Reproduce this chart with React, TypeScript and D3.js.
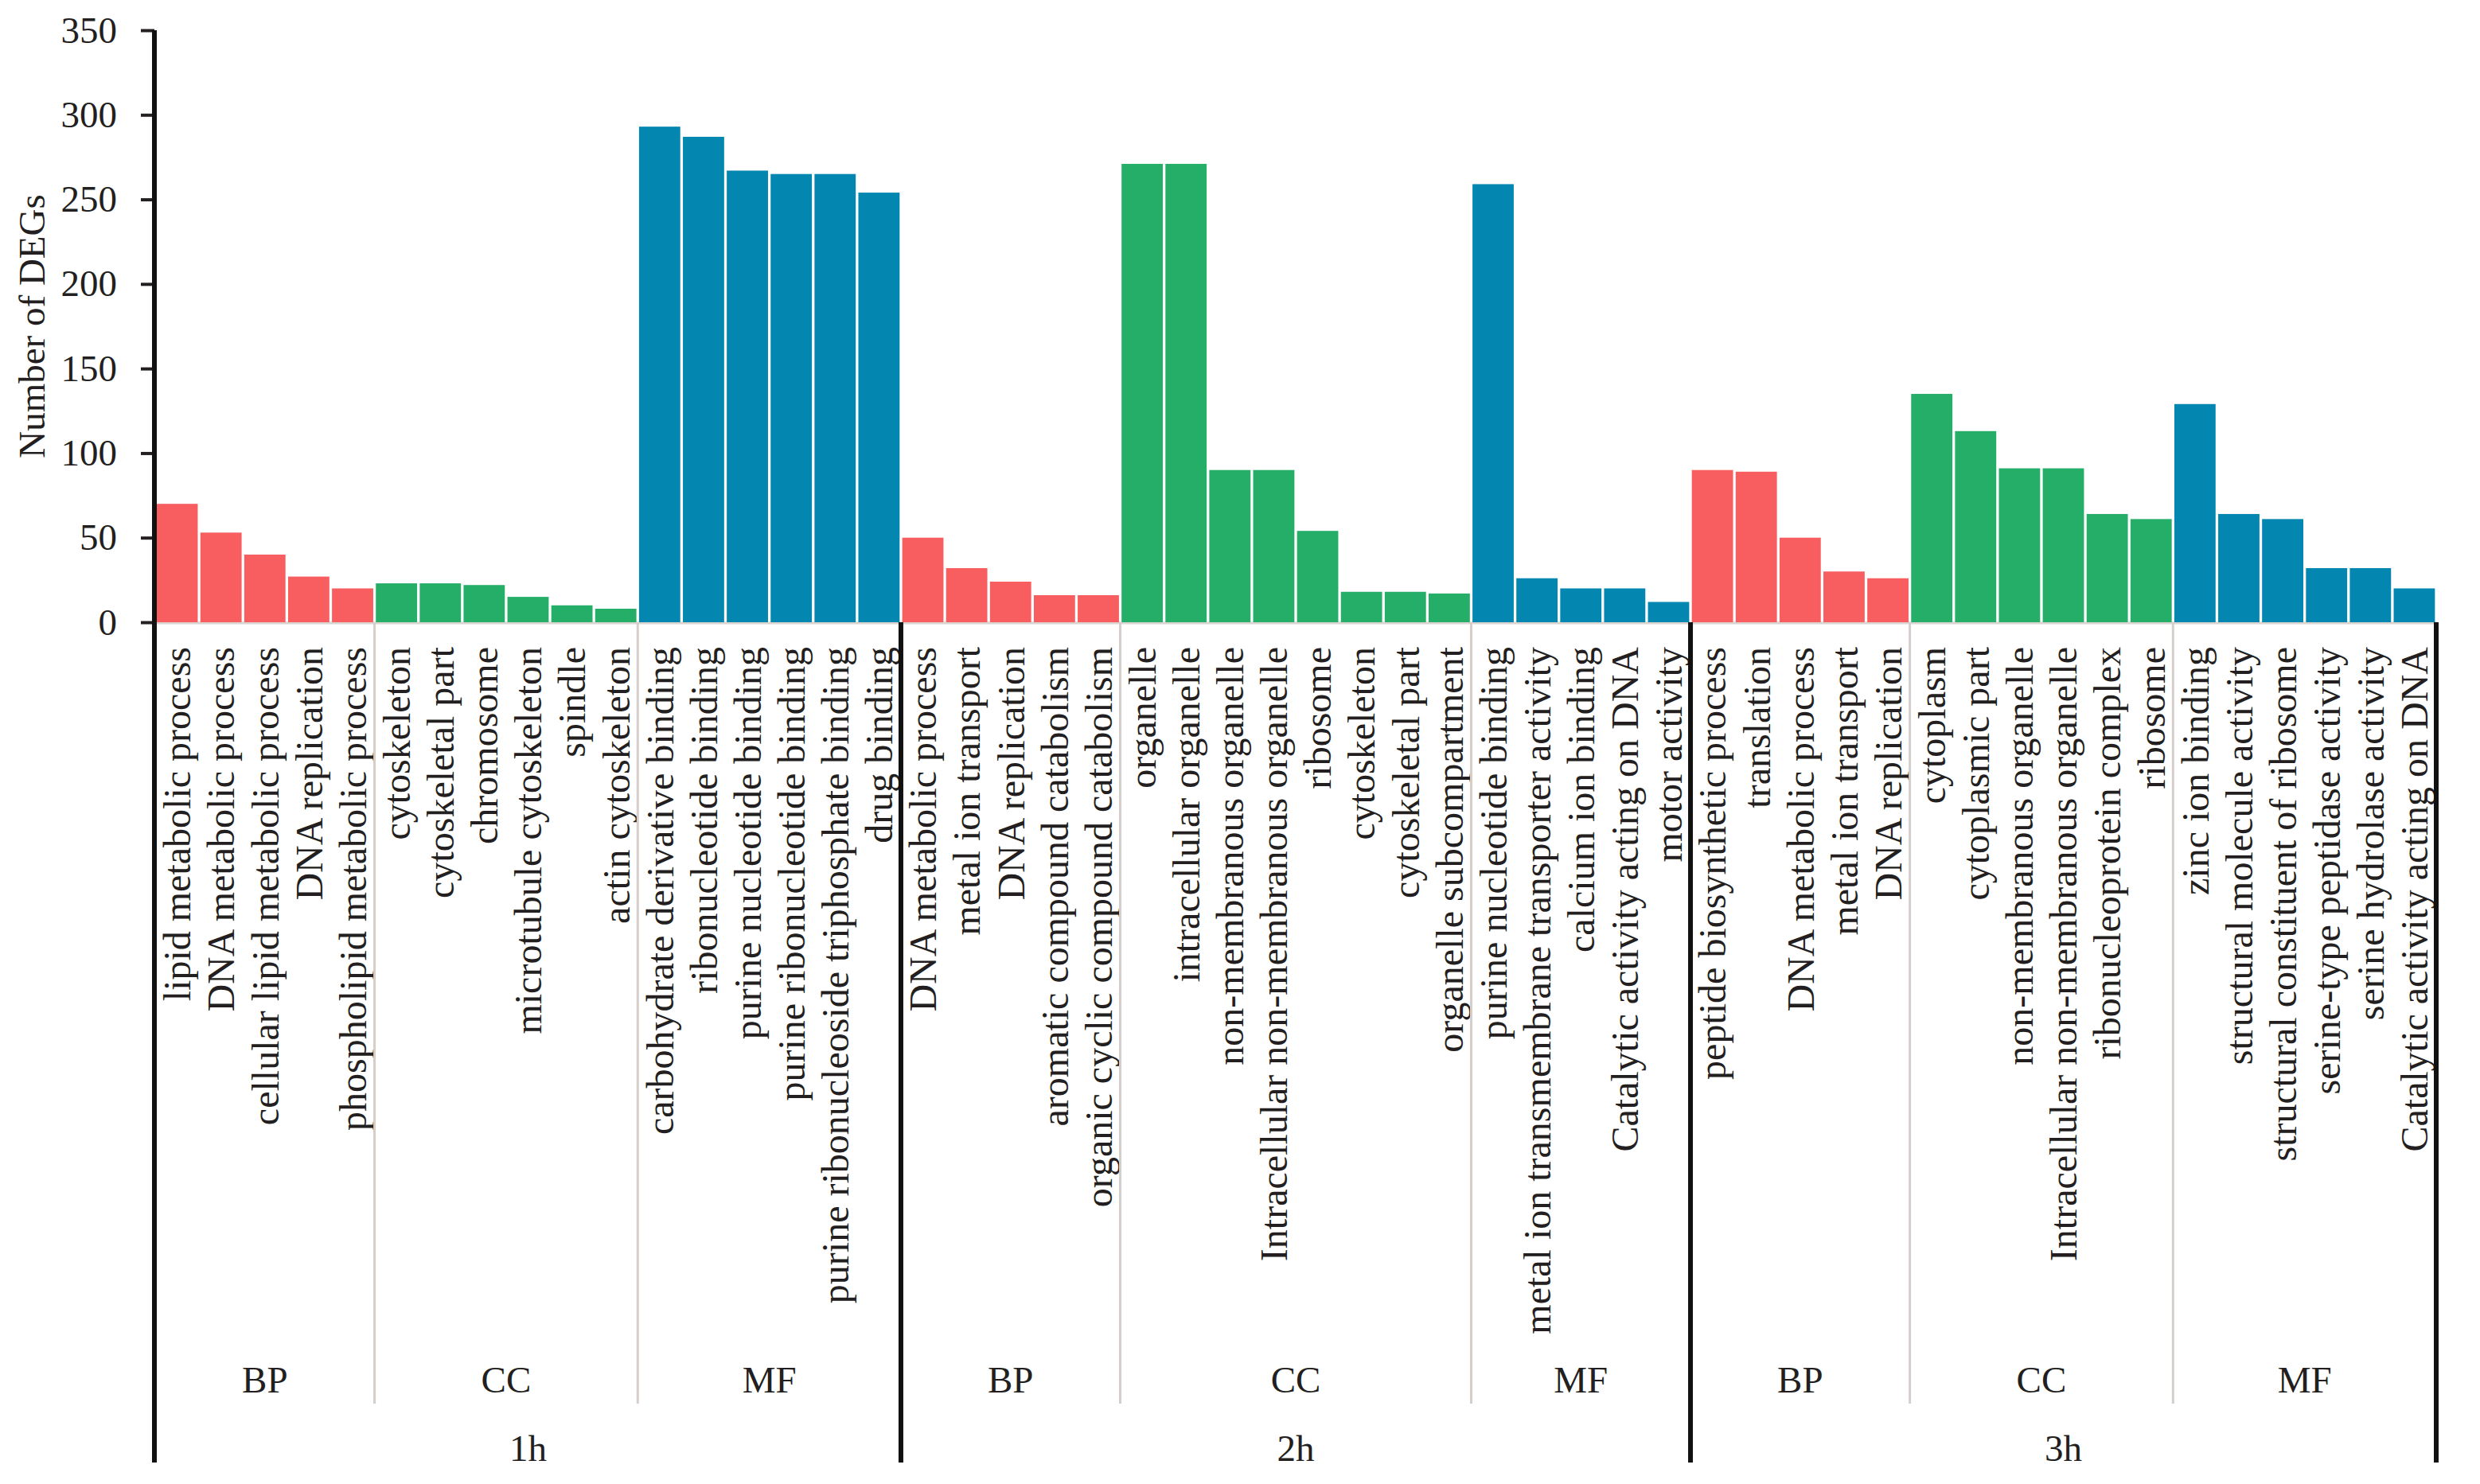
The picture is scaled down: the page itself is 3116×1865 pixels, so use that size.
import React, {useRef, useEffect} from "react";
import * as d3 from "d3";

// time points and GO ontologies
const groups = ["1h", "2h", "3h"];
const ontologies = ["BP", "CC", "MF"];

const bp1hTerms = ["lipid metabolic process", "DNA metabolic process", "cellular lipid metabolic process", "DNA replication", "phospholipid metabolic process"];
const bp1hCounts = [70, 53, 40, 27, 20];
const cc1hTerms = ["cytoskeleton", "cytoskeletal part", "chromosome", "microtubule cytoskeleton", "spindle", "actin cytoskeleton"];
const cc1hCounts = [23, 23, 22, 15, 10, 8];
const mf1hTerms = ["carbohydrate derivative binding", "ribonucleotide binding", "purine nucleotide binding", "purine ribonucleotide binding", "purine ribonucleoside triphosphate binding", "drug binding"];
const mf1hCounts = [293, 287, 267, 265, 265, 254];

const bp2hTerms = ["DNA metabolic process", "metal ion transport", "DNA replication", "aromatic compound catabolism", "organic cyclic compound catabolism"];
const bp2hCounts = [50, 32, 24, 16, 16];
const cc2hTerms = ["organelle", "intracellular organelle", "non-membranous organelle", "Intracellular non-membranous organelle", "ribosome", "cytoskeleton", "cytoskeletal part", "organelle subcompartment"];
const cc2hCounts = [271, 271, 90, 90, 54, 18, 18, 17];
const mf2hTerms = ["purine nucleotide binding", "metal ion transmembrane transporter activity", "calcium ion binding", "Catalytic activity acting on DNA", "motor activity"];
const mf2hCounts = [259, 26, 20, 20, 12];

const bp3hTerms = ["peptide biosynthetic process", "translation", "DNA metabolic process", "metal ion transport", "DNA replication"];
const bp3hCounts = [90, 89, 50, 30, 26];
const cc3hTerms = ["cytoplasm", "cytoplasmic part", "non-membranous organelle", "Intracellular non-membranous organelle", "ribonucleoprotein complex", "ribosome"];
const cc3hCounts = [135, 113, 91, 91, 64, 61];
const mf3hTerms = ["zinc ion binding", "structural molecule activity", "structural constituent of ribosome", "serine-type peptidase activity", "serine hydrolase activity", "Catalytic activity acting on DNA"];
const mf3hCounts = [129, 64, 61, 32, 32, 20];

const yTicks = [0, 50, 100, 150, 200, 250, 300, 350];

const colors: Record<string, string> = {BP: "#f85d5f", CC: "#24ae68", MF: "#0386b0"};

const termTable = [
    [[bp1hTerms, bp1hCounts], [cc1hTerms, cc1hCounts], [mf1hTerms, mf1hCounts]],
    [[bp2hTerms, bp2hCounts], [cc2hTerms, cc2hCounts], [mf2hTerms, mf2hCounts]],
    [[bp3hTerms, bp3hCounts], [cc3hTerms, cc3hCounts], [mf3hTerms, mf3hCounts]],
] as [string[], number[]][][];

interface Row { key: string; group: string; ont: string; term: string; value: number }

const rows: Row[] = [];
groups.forEach((g, gi) => {
    ontologies.forEach((o, oi) => {
        const [terms, counts] = termTable[gi][oi];
        terms.forEach((t, i) => rows.push({key: `${g}|${o}|${i}`, group: g, ont: o, term: t, value: counts[i]}));
    });
});

const width = 3116;
const height = 1865;
const left = 194;
const right = 3061;
const top = 38;
const base = 782;
const bottom = 1838;
const font = "'Liberation Serif', 'Times New Roman', serif";
const ink = "#231f20";

const App: React.FC = () => {
    const ref = useRef<SVGSVGElement>(null);

    useEffect(() => {
        if (!ref.current) return;
        const svg = d3.select(ref.current);
        svg.selectAll("*").remove();

        const x = d3.scaleBand<string>()
            .domain(rows.map(d => d.key))
            .range([left + 1, right])
            .paddingInner(0.06)
            .paddingOuter(0.03);
        const step = x.step();
        const edge = (k: string) => (x(k) as number) - step * 0.03;

        const y = d3.scaleLinear().domain([0, 350]).range([base, top]);

        // y axis
        const gy = svg.append("g").attr("transform", `translate(${left},0)`)
            .call(d3.axisLeft(y).tickValues(yTicks).tickSize(17).tickPadding(30));
        gy.select(".domain").remove();
        gy.selectAll(".tick line").attr("stroke", ink).attr("stroke-width", 4);
        gy.selectAll(".tick text")
            .attr("font-family", font).attr("font-size", 47).attr("fill", ink);

        svg.append("text")
            .attr("transform", `translate(56,${(top + base) / 2}) rotate(-90)`)
            .attr("text-anchor", "middle")
            .attr("font-family", font).attr("font-size", 47).attr("fill", ink)
            .text("Number of DEGs");

        // light baseline
        svg.append("line")
            .attr("x1", left).attr("x2", right).attr("y1", base + 1).attr("y2", base + 1)
            .attr("stroke", "#dcd4d0").attr("stroke-width", 3);

        // bars
        svg.append("g").selectAll("rect").data(rows).join("rect")
            .attr("x", d => x(d.key) as number)
            .attr("width", x.bandwidth())
            .attr("y", d => y(d.value))
            .attr("height", d => y(0) - y(d.value))
            .attr("fill", d => colors[d.ont]);

        // term labels
        svg.append("g").selectAll("text").data(rows).join("text")
            .attr("transform", d => `translate(${(x(d.key) as number) + x.bandwidth() / 2},${base + 31}) rotate(-90)`)
            .attr("dy", "0.35em")
            .attr("text-anchor", "end")
            .attr("font-family", font).attr("font-size", 48).attr("fill", ink)
            .text(d => d.term);

        // ontology blocks and separators
        groups.forEach(g => {
            ontologies.forEach((o, oi) => {
                const keys = rows.filter(r => r.group === g && r.ont === o).map(r => r.key);
                const x0 = edge(keys[0]);
                const x1 = edge(keys[keys.length - 1]) + step;
                svg.append("text")
                    .attr("x", (x0 + x1) / 2).attr("y", 1750)
                    .attr("text-anchor", "middle")
                    .attr("font-family", font).attr("font-size", 47).attr("fill", ink)
                    .text(o);
                if (oi < ontologies.length - 1) {
                    svg.append("line")
                        .attr("x1", x1).attr("x2", x1).attr("y1", base).attr("y2", 1764)
                        .attr("stroke", "#d6cecb").attr("stroke-width", 3);
                }
            });
            const keys = rows.filter(r => r.group === g).map(r => r.key);
            const x0 = edge(keys[0]);
            const x1 = edge(keys[keys.length - 1]) + step;
            svg.append("text")
                .attr("x", (x0 + x1) / 2).attr("y", 1836)
                .attr("text-anchor", "middle")
                .attr("font-family", font).attr("font-size", 47).attr("fill", ink)
                .text(g);
            svg.append("line")
                .attr("x1", x1).attr("x2", x1).attr("y1", base).attr("y2", bottom)
                .attr("stroke", "#111").attr("stroke-width", 6);
        });

        // main y axis line, running down through the label area
        svg.append("line")
            .attr("x1", left).attr("x2", left).attr("y1", top).attr("y2", bottom)
            .attr("stroke", "#111").attr("stroke-width", 6);
    }, []);

    return <div style={{position: "absolute", left: 0, top: 0, width, height, background: "#fff"}}>
        <svg ref={ref} width={width} height={height}/>
    </div>
}

export default App;
